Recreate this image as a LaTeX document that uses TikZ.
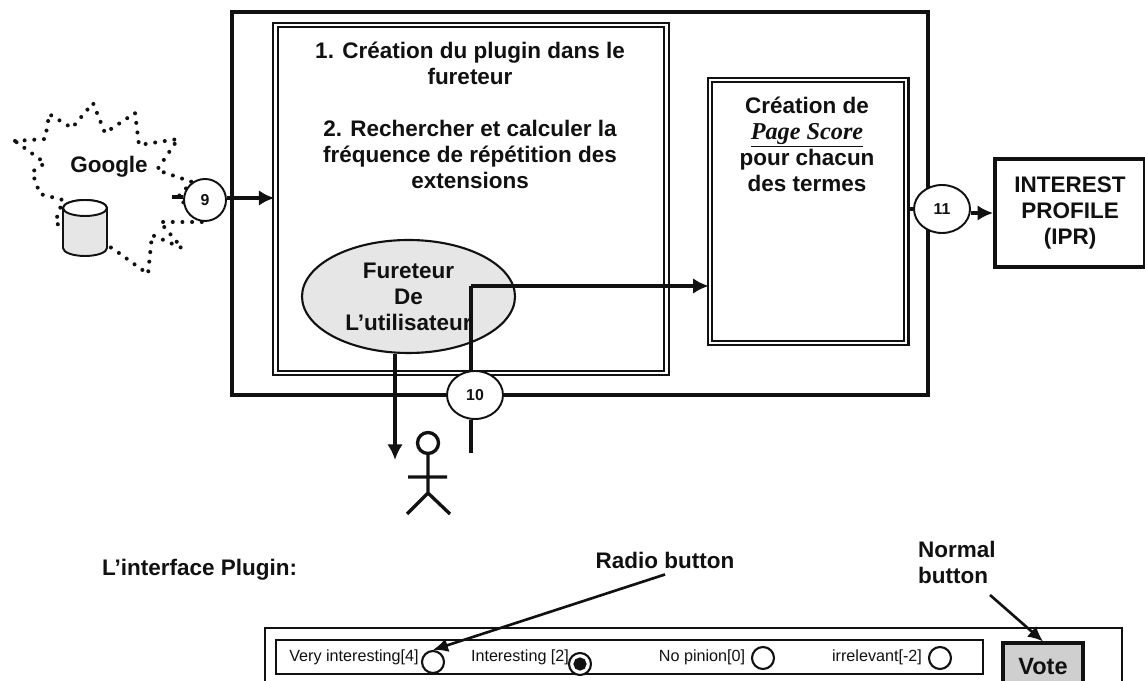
\documentclass[tikz,border=0pt]{standalone}
\usepackage{fontspec}
\setmainfont{Liberation Sans}
\newfontfamily\scorefont{Liberation Serif}
\usetikzlibrary{arrows.meta,shapes.geometric}
\definecolor{fpink}{HTML}{111111}
\definecolor{fpstipple}{HTML}{E6E6E6}
\tikzset{
  frame/.style={rectangle,draw=fpink,line width=2.2pt,inner sep=0pt},
  dframe/.style={rectangle,draw=fpink,line width=1.2pt,double,double distance=1.3pt,inner sep=0pt},
  tag/.style={ellipse,draw=fpink,fill=white,line width=1.1pt,inner sep=0pt,font=\fontsize{9}{10}\selectfont\bfseries,text=fpink},
  wire/.style={draw=fpink,line width=2.1pt},
  flow/.style={-{Latex[length=3.1mm,width=3.1mm]},draw=fpink,line width=2.1pt},
  pointer/.style={-{Latex[length=3mm,width=2.8mm]},draw=fpink,line width=1.5pt},
  heading/.style={font=\fontsize{12.8}{14.8}\selectfont\bfseries,text=fpink,align=center},
  radio/.style={circle,draw=fpink,fill=white,line width=1.2pt,minimum size=.44cm,inner sep=0pt},
  choice/.style={font=\fontsize{9.2}{10}\selectfont,text=fpink},
  burst/.style={draw=fpink,line width=2.3pt,line cap=round,dash pattern=on 0pt off 5.5pt},
}
\begin{document}
\begin{tikzpicture}
  \clip (0,0) rectangle (22.9,13.6);
  % main frame
  \node[frame,minimum width=13.92cm,minimum height=7.66cm] (main) at (11.6,9.53) {};
  \node[dframe,minimum width=7.82cm,minimum height=6.96cm] (plugin) at (9.42,9.62) {};
  \node[heading] (steps) at (9.4,11.29) {1. Création du plugin dans le\\fureteur\\[14.8pt]2. Rechercher et calculer la\\fréquence de répétition des\\extensions};
  \node[dframe,minimum width=3.93cm,minimum height=5.26cm] (score) at (16.16,9.37) {};
  \node[heading] (scoretxt) at (16.14,10.72) {Création de\\{\fontsize{13.8}{14.8}\selectfont\scorefont\itshape\underline{Page Score}}\\pour chacun\\des termes};
  \node[frame,heading,minimum width=3cm,minimum height=2.16cm] (profile) at (21.4,9.34) {INTEREST\\PROFILE\\(IPR)};
  \node[ellipse,draw=fpink,fill=fpstipple,line width=1.2pt,inner sep=0pt,minimum width=4.26cm,minimum height=2.26cm,heading] (browser) at (8.17,7.67) {Fureteur\\De\\L’utilisateur};
  % google cloud
  \draw[burst] (.30,10.78)--(.90,10.82)--(.96,11.16)--(.98,11.32)--(1.44,11.04)--(1.86,11.54)--(2.10,10.94)--(2.70,11.34)--(2.78,10.70)--(3.56,10.82)--(3.14,10.20)--(3.84,9.96)--(3.56,9.66)--(4.06,9.16)--(3.20,9.16)--(3.64,8.64)--(3.04,8.90)--(2.96,8.12)--(2.24,8.64)--(1.10,9.14)--(1.26,9.60)--(.80,9.72)--(.64,10.16)--(.90,10.34)--cycle;
  \node[heading] (google) at (2.18,10.26) {Google};
  \draw[draw=fpink,fill=fpstipple,line width=1.1pt] (1.26,9.44)--(1.26,8.64) arc[start angle=180,end angle=360,x radius=.44,y radius=.16]--(2.14,9.44) arc[start angle=0,end angle=180,x radius=.44,y radius=.16];
  \draw[draw=fpink,fill=white,line width=1.1pt] (1.70,9.44) ellipse[x radius=.44,y radius=.16];
  \node[tag,minimum width=.84cm,minimum height=.84cm] (t9) at (4.10,9.60) {9};
  \node[tag,minimum width=1.12cm,minimum height=.96cm] (t10) at (9.5,5.7) {10};
  \node[tag,minimum width=1.12cm,minimum height=.96cm] (t11) at (18.84,9.42) {11};
  \coordinate (gstub) at (3.44,9.66);
  \draw[wire] (gstub) -- (gstub -| t9.west);
  \draw[flow] (t9.east) ++(0,.04) coordinate (t9out) -- (t9out -| plugin.west);
  \draw[wire] (score.east |- t11.west) -- (t11.west);
  \draw[flow] (t11.east |- profile.west) -- (profile.west);
  % browser links
  \coordinate (tap) at (9.42,7.88);
  \coordinate (tail) at (9.42,4.54);
  \coordinate (down) at (7.90,4.40);
  \draw[wire] (tap) -- (tap |- t10.north) (tail) -- (tail |- t10.south);
  \draw[flow] (tap) -- (tap -| score.west);
  \draw[flow] (down |- browser.south) -- (down);
  % user
  \node[circle,draw=fpink,line width=1.9pt,minimum size=.42cm,inner sep=0pt] (head) at (8.56,4.74) {};
  \coordinate (hip) at (8.56,3.74);
  \coordinate (arml) at (8.16,4.06);
  \coordinate (armr) at (8.94,4.06);
  \coordinate (footl) at (8.14,3.32);
  \coordinate (footr) at (9.0,3.32);
  \draw[draw=fpink,line width=1.9pt] (head)--(hip)--(footl) (hip)--(footr) (arml)--(armr);
  % plugin panel
  \node[heading,anchor=west] (pluginlbl) at (1.92,2.20) {L’interface Plugin:};
  \node[heading] (radiolbl) at (13.30,2.40) {Radio button};
  \node[heading,anchor=west,align=left] (normallbl) at (18.24,2.36) {Normal\\button};
  \coordinate (normalout) at (19.8,1.70);
  \node[rectangle,draw=fpink,line width=1.3pt,minimum width=17.14cm,minimum height=1.44cm] (panel) at (13.87,.32) {};
  \node[rectangle,draw=fpink,line width=.7pt,minimum width=14.14cm,minimum height=.68cm] (row) at (12.59,.46) {};
  \node[choice] (c1) at (7.08,.46) {Very interesting[4]};
  \node[choice] (c2) at (10.40,.46) {Interesting [2]};
  \node[choice] (c3) at (14.04,.46) {No pinion[0]};
  \node[choice] (c4) at (17.54,.46) {irrelevant[-2]};
  \node[radio] (r1) at (8.66,.36) {};
  \node[radio] (r2) at (11.60,.32) {};
  \node[radio,fill=fpink,minimum size=.22cm] (r2dot) at (r2) {};
  \node[radio] (r3) at (15.26,.44) {};
  \node[radio] (r4) at (18.80,.44) {};
  \node[rectangle,draw=fpink,fill=fpstipple!90!black,line width=1.8pt,minimum width=1.6cm,minimum height=.96cm,font=\fontsize{13.4}{14}\selectfont\bfseries,text=fpink] (vote) at (20.86,.26) {Vote};
  \draw[pointer] (radiolbl.south) -- (r1.north);
  \draw[pointer] (normalout) -- (vote.north);
\end{tikzpicture}
\end{document}
